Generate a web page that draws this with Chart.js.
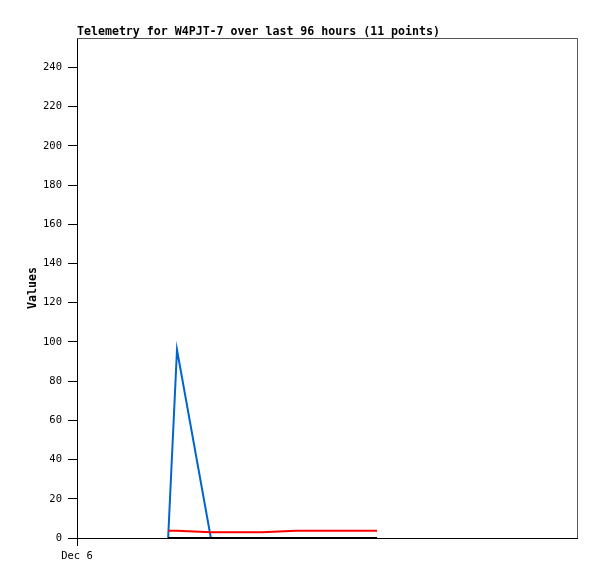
<!DOCTYPE html>
<html>
<head>
<meta charset="utf-8">
<script src="https://cdn.jsdelivr.net/npm/chart.js@4/dist/chart.umd.min.js"></script>
<style>
html,body{margin:0;padding:0;background:#fff;}
canvas{display:block;}
</style>
</head>
<body>
<canvas id="c" width="597" height="579"></canvas>
<script>
// Hours since Dec 6 00:00 for each of the 11 telemetry points
const hours = [17.5, 19.2, 25.7, 29.0, 32.3, 35.5, 42.0, 45.3, 48.6, 53.0, 57.6];
const seriesBlue  = [0, 96, 0, 0, 0, 0, 0, 0, 0, 0, 0];
const seriesRed   = [3.7, 3.7, 2.9, 2.9, 2.9, 2.9, 3.7, 3.7, 3.7, 3.7, 3.7];
const seriesBlack = [0, 0, 0, 0, 0, 0, 0, 0, 0, 0, 0];
const yTicks = [0, 20, 40, 60, 80, 100, 120, 140, 160, 180, 200, 220, 240];
const xTickLabels = [{ value: 0, label: 'Dec 6' }];
const titleText = 'Telemetry for W4PJT-7 over last 96 hours (11 points)';
const yLabel = 'Values';

const toPts = arr => arr.map((v, i) => ({ x: hours[i], y: v }));
const MONO = '"DejaVu Sans Mono", "Liberation Mono", monospace';

const textPlugin = {
  id: 'textPlugin',
  beforeDatasetsDraw(chart) {
    const { ctx, chartArea: a } = chart;
    ctx.save();
    ctx.strokeStyle = '#555';
    ctx.lineWidth = 1;
    ctx.beginPath();
    ctx.moveTo(a.left, a.top + 0.5);
    ctx.lineTo(a.right + 0.5, a.top + 0.5);
    ctx.lineTo(a.right + 0.5, a.bottom);
    ctx.stroke();
    ctx.restore();
  },
  afterDraw(chart) {
    const { ctx, chartArea: a } = chart;
    ctx.save();
    ctx.fillStyle = '#000';
    ctx.font = 'bold 11.6px ' + MONO;
    ctx.textAlign = 'left';
    ctx.textBaseline = 'alphabetic';
    ctx.fillText(titleText, a.left, 35);
    ctx.translate(36, (a.top + a.bottom) / 2);
    ctx.rotate(-Math.PI / 2);
    ctx.textAlign = 'center';
    ctx.fillText(yLabel, 0, 0);
    ctx.restore();
  }
};

new Chart(document.getElementById('c'), {
  type: 'line',
  data: {
    datasets: [
      { data: toPts(seriesBlack), borderColor: '#000000', borderWidth: 2, pointRadius: 0, tension: 0, clip: false },
      { data: toPts(seriesRed), borderColor: '#ff0000', borderWidth: 2, pointRadius: 0, tension: 0, clip: false },
      { data: toPts(seriesBlue), borderColor: '#0066cc', borderWidth: 2, pointRadius: 0, tension: 0, clip: false }
    ]
  },
  options: {
    responsive: false,
    animation: false,
    devicePixelRatio: 1,
    layout: { padding: { top: 38, right: 20, left: 0, bottom: 0 } },
    plugins: { legend: { display: false }, tooltip: { enabled: false }, title: { display: false } },
    scales: {
      x: {
        type: 'linear', min: 0, max: 96,
        afterBuildTicks: s => { s.ticks = xTickLabels.map(t => ({ value: t.value })); },
        afterFit: s => { s.height = 41; },
        ticks: {
          callback: v => { const t = xTickLabels.find(t => t.value === v); return t ? t.label : ''; },
          color: '#000', font: { family: MONO, size: 10.5 }, padding: 4, maxRotation: 0, autoSkip: false
        },
        grid: { display: true, drawOnChartArea: false, drawTicks: true, tickLength: 8, color: '#000' },
        border: { display: true, color: '#000', width: 1 }
      },
      y: {
        min: 0, max: 255,
        afterBuildTicks: s => { s.ticks = yTicks.map(v => ({ value: v })); },
        afterFit: s => { s.width = 77; },
        ticks: { color: '#000', font: { family: MONO, size: 10.5 }, padding: 6, callback: v => String(v) },
        grid: { display: true, drawOnChartArea: false, drawTicks: true, tickLength: 9, color: '#000' },
        border: { display: true, color: '#000', width: 1 }
      }
    }
  },
  plugins: [textPlugin]
});
</script>
</body>
</html>
